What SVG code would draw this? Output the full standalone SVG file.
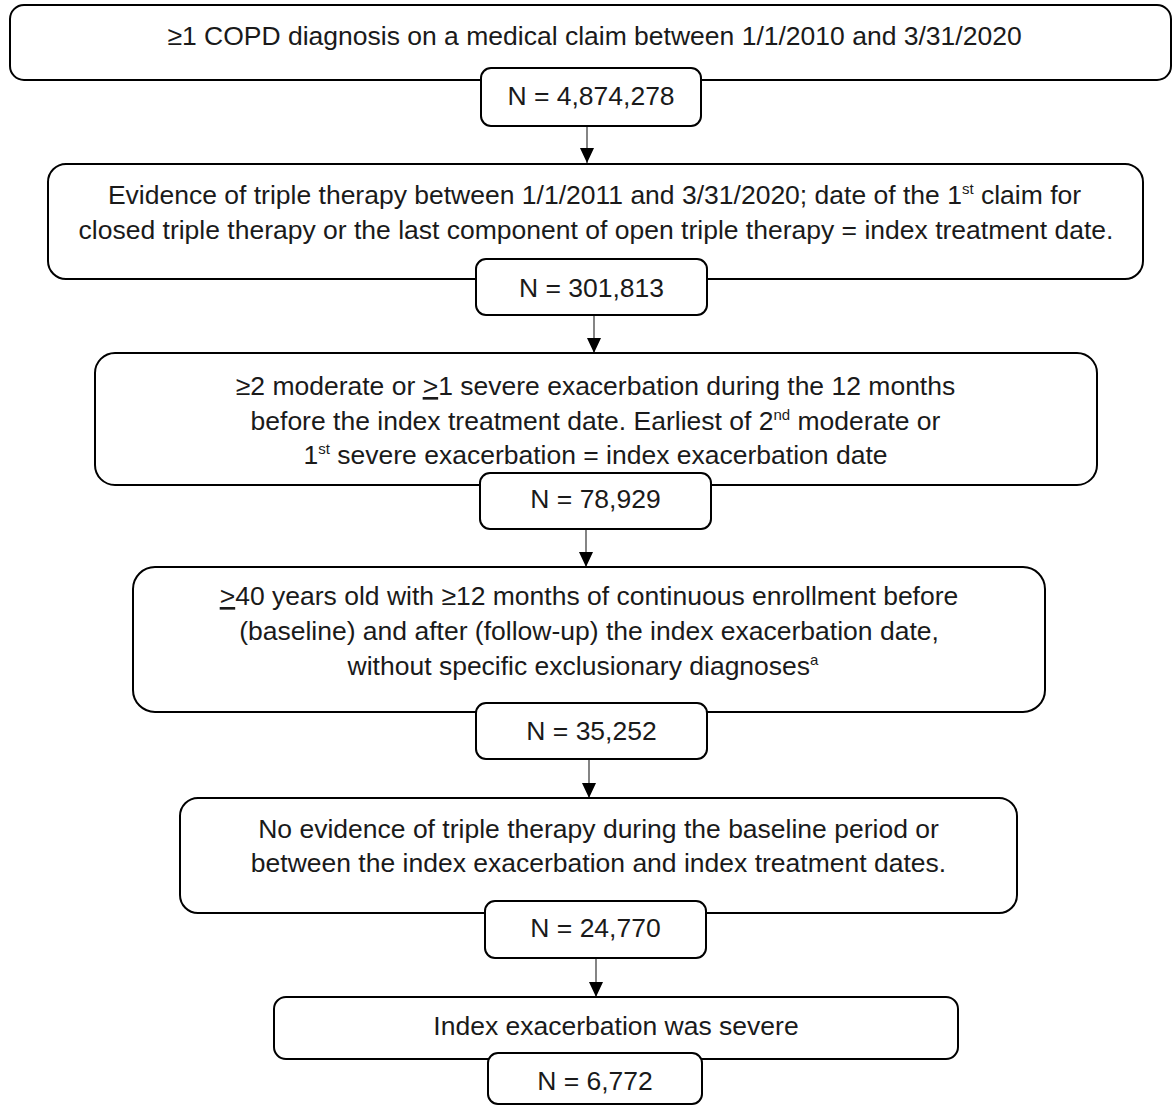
<svg xmlns="http://www.w3.org/2000/svg" width="1173" height="1107" viewBox="0 0 1173 1107">
<style>
.box{fill:#fff;stroke:#000;stroke-width:2}
.t{font-family:"Liberation Sans",Arial,sans-serif;font-size:26.5px;fill:#1a1a1a;text-anchor:middle}
.sup{font-size:15px}
.u{text-decoration:underline}
.c{stroke:#333;stroke-width:1.2;fill:none}
</style>
<defs>
<marker id="ah" markerWidth="15" markerHeight="14" refX="15" refY="7" orient="auto" markerUnits="userSpaceOnUse" viewBox="0 0 15 14">
<path d="M0,0 L15,7 L0,14 Z" fill="#000"/>
</marker>
</defs>
<rect width="1173" height="1107" fill="#fff"/>
<g id="connectors">
<line class="c" x1="587" y1="126" x2="587" y2="163" marker-end="url(#ah)"/>
<line class="c" x1="594" y1="315" x2="594" y2="353" marker-end="url(#ah)"/>
<line class="c" x1="586" y1="529" x2="586" y2="567" marker-end="url(#ah)"/>
<line class="c" x1="589" y1="759" x2="589" y2="798" marker-end="url(#ah)"/>
<line class="c" x1="596" y1="958" x2="596" y2="997" marker-end="url(#ah)"/>
</g>
<g id="node1">
<rect class="box" x="10" y="5" width="1161" height="75" rx="14"/>
<text class="t" x="594.5" y="45">≥1 COPD diagnosis on a medical claim between 1/1/2010 and 3/31/2020</text>
</g>
<g id="n1">
<rect class="box" x="481" y="68" width="220" height="58" rx="10"/>
<text class="t" x="591" y="105">N = 4,874,278</text>
</g>
<g id="node2">
<rect class="box" x="48" y="164" width="1095" height="115" rx="18"/>
<text class="t" x="594.5" y="204">Evidence of triple therapy between 1/1/2011 and 3/31/2020; date of the 1<tspan class="sup" dy="-10">st</tspan><tspan dy="10"> claim for</tspan></text>
<text class="t" x="596" y="239">closed triple therapy or the last component of open triple therapy = index treatment date.</text>
</g>
<g id="n2">
<rect class="box" x="476" y="259" width="231" height="56" rx="10"/>
<text class="t" x="591.5" y="297">N = 301,813</text>
</g>
<g id="node3">
<rect class="box" x="95" y="353" width="1002" height="132" rx="20"/>
<text class="t" x="595.5" y="395">≥2 moderate or <tspan class="u">&gt;</tspan>1 severe exacerbation during the 12 months</text>
<text class="t" x="595.5" y="430">before the index treatment date. Earliest of 2<tspan class="sup" dy="-10">nd</tspan><tspan dy="10"> moderate or</tspan></text>
<text class="t" x="595.5" y="464">1<tspan class="sup" dy="-10">st</tspan><tspan dy="10"> severe exacerbation = index exacerbation date</tspan></text>
</g>
<g id="n3">
<rect class="box" x="480" y="473" width="231" height="56" rx="10"/>
<text class="t" x="595.5" y="508">N = 78,929</text>
</g>
<g id="node4">
<rect class="box" x="133" y="567" width="912" height="145" rx="22"/>
<text class="t" x="589" y="605"><tspan class="u">&gt;</tspan>40 years old with ≥12 months of continuous enrollment before</text>
<text class="t" x="589" y="640">(baseline) and after (follow-up) the index exacerbation date,</text>
<text class="t" x="583" y="675">without specific exclusionary diagnoses<tspan class="sup" dy="-10">a</tspan></text>
</g>
<g id="n4">
<rect class="box" x="476" y="703" width="231" height="56" rx="10"/>
<text class="t" x="591.5" y="740">N = 35,252</text>
</g>
<g id="node5">
<rect class="box" x="180" y="798" width="837" height="115" rx="18"/>
<text class="t" x="598.5" y="838">No evidence of triple therapy during the baseline period or</text>
<text class="t" x="598.5" y="872">between the index exacerbation and index treatment dates.</text>
</g>
<g id="n5">
<rect class="box" x="485" y="901" width="221" height="57" rx="10"/>
<text class="t" x="595.5" y="937">N = 24,770</text>
</g>
<g id="node6">
<rect class="box" x="274" y="997" width="684" height="62" rx="12"/>
<text class="t" x="616" y="1035">Index exacerbation was severe</text>
</g>
<g id="n6">
<rect class="box" x="488" y="1053" width="214" height="51" rx="10"/>
<text class="t" x="595" y="1090">N = 6,772</text>
</g>
</svg>
